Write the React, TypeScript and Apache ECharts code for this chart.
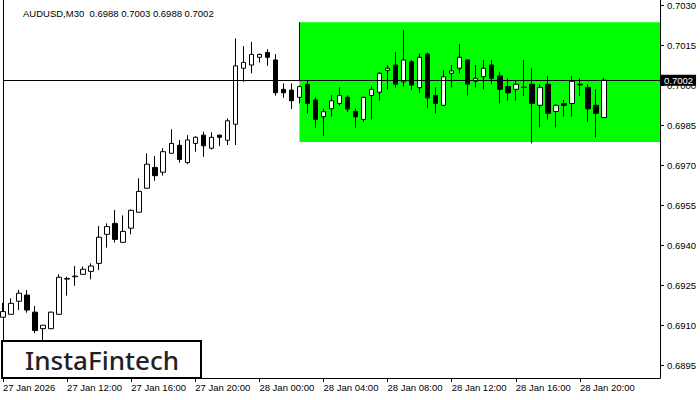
import React, { useEffect, useRef } from "react";
import * as echarts from "echarts";

const opens = [0.69131,0.69142,0.69191,0.69214,0.69150,0.69088,0.69088,0.69142,0.69274,0.69283,0.69292,0.69303,0.69333,0.69442,0.69483,0.69412,0.69465,0.69525,0.69615,0.69693,0.69675,0.69746,0.69776,0.69711,0.69783,0.69814,0.69765,0.69814,0.69795,0.69855,0.70065,0.70077,0.70106,0.70124,0.70096,0.69986,0.69983,0.69956,0.70005,0.69946,0.69883,0.69913,0.69933,0.69956,0.69903,0.69873,0.69963,0.69975,0.70057,0.70077,0.70014,0.70089,0.69992,0.70118,0.69963,0.69926,0.70046,0.70065,0.70096,0.70016,0.70033,0.70077,0.70036,0.69996,0.69986,0.69993,0.70005,0.69926,0.70005,0.69903,0.69933,0.69933,0.70005,0.69993,0.69926,0.69880];
const closes = [0.69152,0.69183,0.69221,0.69158,0.69081,0.69101,0.69150,0.69281,0.69276,0.69285,0.69311,0.69323,0.69431,0.69471,0.69423,0.69453,0.69532,0.69603,0.69705,0.69662,0.69752,0.69783,0.69723,0.69796,0.69806,0.69774,0.69806,0.69806,0.69868,0.70074,0.70087,0.70117,0.70117,0.70106,0.69973,0.69973,0.69943,0.69996,0.69933,0.69873,0.69902,0.69943,0.69963,0.69912,0.69883,0.69956,0.69986,0.70046,0.70065,0.70005,0.70096,0.70002,0.70106,0.69954,0.69933,0.70033,0.70055,0.70106,0.70005,0.70027,0.70065,0.70027,0.69986,0.69973,0.70005,0.69994,0.69933,0.69993,0.69896,0.69926,0.69926,0.70016,0.70003,0.69913,0.69896,0.70020];
const highs = [0.69185,0.69202,0.69233,0.69233,0.69173,0.69101,0.69152,0.69292,0.69283,0.69323,0.69321,0.69333,0.69473,0.69483,0.69533,0.69513,0.69535,0.69652,0.69746,0.69736,0.69765,0.69836,0.69796,0.69814,0.69810,0.69827,0.69825,0.69816,0.69877,0.70177,0.70148,0.70164,0.70120,0.70136,0.70118,0.70008,0.70008,0.70000,0.70017,0.69956,0.69914,0.69964,0.69993,0.69963,0.69914,0.69958,0.69996,0.70050,0.70077,0.70126,0.70208,0.70096,0.70121,0.70124,0.69993,0.70058,0.70077,0.70156,0.70098,0.70077,0.70096,0.70096,0.70052,0.70027,0.70017,0.70096,0.70065,0.70005,0.70036,0.69930,0.69946,0.70036,0.70027,0.70005,0.69986,0.70030];
const lows = [0.69131,0.69142,0.69158,0.69148,0.69071,0.69046,0.69086,0.69140,0.69212,0.69249,0.69290,0.69273,0.69308,0.69392,0.69411,0.69410,0.69442,0.69523,0.69613,0.69643,0.69662,0.69745,0.69711,0.69705,0.69752,0.69733,0.69760,0.69773,0.69777,0.69777,0.70014,0.70046,0.70087,0.70074,0.69962,0.69954,0.69912,0.69933,0.69896,0.69842,0.69811,0.69883,0.69926,0.69900,0.69842,0.69864,0.69873,0.69943,0.69986,0.69993,0.69996,0.69983,0.69973,0.69915,0.69896,0.69924,0.69993,0.70046,0.69963,0.69993,0.69986,0.70005,0.69933,0.69943,0.69943,0.69961,0.69783,0.69843,0.69873,0.69843,0.69883,0.69883,0.69961,0.69864,0.69806,0.69880];

const tickLabels = ["27 Jan 2026","27 Jan 12:00","27 Jan 16:00","27 Jan 20:00","28 Jan 00:00","28 Jan 04:00","28 Jan 08:00","28 Jan 12:00","28 Jan 16:00","28 Jan 20:00"];
const yTicks = [0.6895,0.691,0.6925,0.694,0.6955,0.697,0.6985,0.7,0.7015,0.703];

const SLOTS = 83;
const BARS_PER_LABEL = 8;
const Y_MIN = 0.68903;
const Y_MAX = 0.70321;
const lastPrice = 0.7002;
const zoneTop = 0.70238;
const zoneBottom = 0.69788;
const zoneStart = 37;
const titleText = "AUDUSD,M30  0.6988 0.7003 0.6988 0.7002";

const FONT = "Liberation Sans";

export default function App() {
  const ref = useRef<HTMLDivElement>(null);
  useEffect(() => {
    if (!ref.current) return;
    const chart = echarts.init(ref.current, null, { renderer: "svg" });
    const categories = Array.from({ length: SLOTS }, (_, i) => String(i));
    const showIdx = (i: number) => i % BARS_PER_LABEL === 0 && i / BARS_PER_LABEL < tickLabels.length;
    const data = opens.map((o, i) => [o, closes[i], lows[i], highs[i]]);
    chart.setOption({
      animation: false,
      backgroundColor: "#fff",
      title: {
        text: titleText,
        left: 18,
        top: 3,
        textStyle: { fontSize: 9.5, fontWeight: "normal", color: "#000", fontFamily: FONT },
      },
      grid: { left: 3, right: 40, top: 0, bottom: 22, containLabel: false },
      xAxis: {
        type: "category",
        data: categories,
        boundaryGap: false,
        axisLine: { show: true, lineStyle: { color: "#000", width: 1 } },
        axisTick: { show: true, interval: (i: number) => showIdx(i), length: 4, lineStyle: { color: "#000" } },
        axisLabel: {
          interval: (i: number) => showIdx(i),
          formatter: (_v: string, i: number) => tickLabels[Math.round(i / BARS_PER_LABEL)] ?? "",
          align: "left",
          fontSize: 9.5,
          color: "#000",
          fontFamily: FONT,
          margin: 4,
        },
        splitLine: { show: false },
      },
      yAxis: [
        {
          type: "value",
          position: "right",
          min: Y_MIN,
          max: Y_MAX,
          scale: true,
          axisLine: { show: true, lineStyle: { color: "#000", width: 1 } },
          axisTick: { show: true, customValues: yTicks, length: 4, lineStyle: { color: "#000" } },
          axisLabel: {
            customValues: yTicks,
            formatter: (v: number) => v.toFixed(4),
            fontSize: 9.5,
            color: "#000",
            fontFamily: FONT,
            margin: 7,
          },
          splitLine: { show: false },
        },
        {
          type: "value",
          position: "left",
          min: Y_MIN,
          max: Y_MAX,
          axisLine: { show: true, onZero: false, lineStyle: { color: "#000", width: 1 } },
          axisTick: { show: false },
          axisLabel: { show: false },
          splitLine: { show: false },
        },
      ],
      series: [
        {
          type: "candlestick",
          data,
          barWidth: 5,
          clip: true,
          itemStyle: {
            color: "#fff",
            color0: "#000",
            borderColor: "#000",
            borderColor0: "#000",
            borderColorDoji: "#000",
            borderWidth: 1,
          },
          markArea: {
            silent: true,
            itemStyle: { color: "#00ff00", opacity: 1 },
            data: [[
              { xAxis: String(zoneStart), yAxis: zoneTop },
              { xAxis: String(SLOTS - 1), yAxis: zoneBottom },
            ]],
          },
          markLine: {
            silent: true,
            symbol: "none",
            precision: 5,
            animation: false,
            lineStyle: { color: "#000", width: 1, type: "solid" },
            data: [
              {
                yAxis: lastPrice,
                label: {
                  show: true,
                  position: "end",
                  formatter: lastPrice.toFixed(4),
                  color: "#fff",
                  backgroundColor: "#000",
                  padding: [1, 3, 0, 3],
                  fontSize: 9.5,
                  fontFamily: FONT,
                  distance: 1,
                },
              },
              [
                { xAxis: String(zoneStart), yAxis: zoneTop, label: { show: false } },
                { xAxis: String(zoneStart), yAxis: lastPrice },
              ],
            ],
          },
        },
      ],
      graphic: [
        {
          type: "group",
          z: 100,
          children: [
            {
              type: "rect",
              z: 100,
              shape: { x: 2, y: 341, width: 199, height: 37 },
              style: { fill: "#fff", stroke: "#000", lineWidth: 2 },
            },
            {
              type: "text",
              z: 101,
              x: 102,
              y: 360,
              style: {
                text: "InstaFintech",
                font: "500 26px 'Noto Sans'",
                fill: "#222",
                textAlign: "center",
                textVerticalAlign: "middle",
              },
            },
          ],
        },
      ],
    });
    return () => chart.dispose();
  }, []);
  return (
    <div
      ref={ref}
      style={{ position: "fixed", left: 0, top: 0, width: 700, height: 400, background: "#fff" }}
    />
  );
}
